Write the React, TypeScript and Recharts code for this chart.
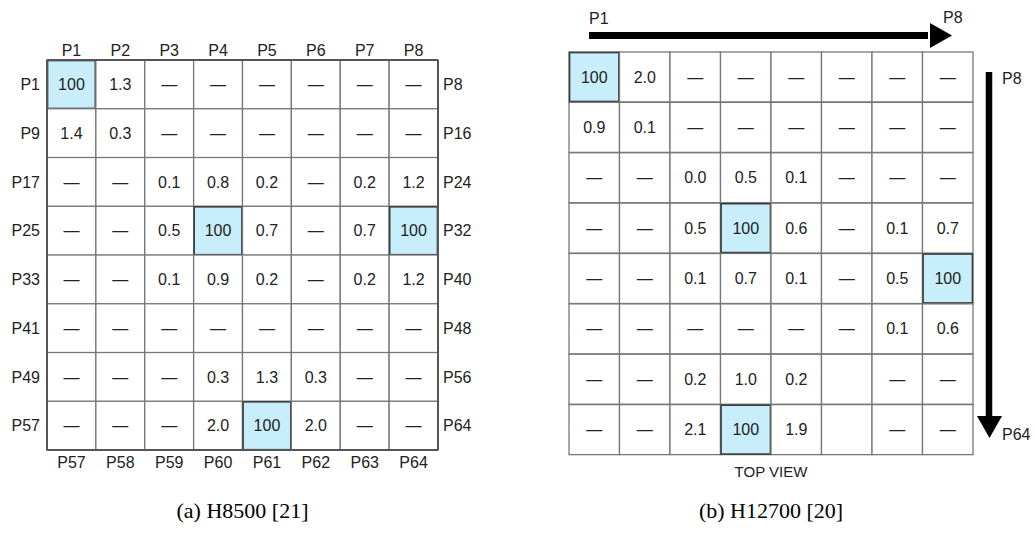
import { Bar, BarChart, XAxis, YAxis } from 'recharts'

const DASH = '—'

// (a) H8500
const colsTopA = ['P1', 'P2', 'P3', 'P4', 'P5', 'P6', 'P7', 'P8']
const colsBottomA = ['P57', 'P58', 'P59', 'P60', 'P61', 'P62', 'P63', 'P64']
const rowsLeftA = ['P1', 'P9', 'P17', 'P25', 'P33', 'P41', 'P49', 'P57']
const rowsRightA = ['P8', 'P16', 'P24', 'P32', 'P40', 'P48', 'P56', 'P64']
const valuesA = [
    ['100', '1.3', DASH, DASH, DASH, DASH, DASH, DASH],
    ['1.4', '0.3', DASH, DASH, DASH, DASH, DASH, DASH],
    [DASH, DASH, '0.1', '0.8', '0.2', DASH, '0.2', '1.2'],
    [DASH, DASH, '0.5', '100', '0.7', DASH, '0.7', '100'],
    [DASH, DASH, '0.1', '0.9', '0.2', DASH, '0.2', '1.2'],
    [DASH, DASH, DASH, DASH, DASH, DASH, DASH, DASH],
    [DASH, DASH, DASH, '0.3', '1.3', '0.3', DASH, DASH],
    [DASH, DASH, DASH, '2.0', '100', '2.0', DASH, DASH],
]

// (b) H12700
const rowsB = ['r1', 'r2', 'r3', 'r4', 'r5', 'r6', 'r7', 'r8']
const valuesB = [
    ['100', '2.0', DASH, DASH, DASH, DASH, DASH, DASH],
    ['0.9', '0.1', DASH, DASH, DASH, DASH, DASH, DASH],
    [DASH, DASH, '0.0', '0.5', '0.1', DASH, DASH, DASH],
    [DASH, DASH, '0.5', '100', '0.6', DASH, '0.1', '0.7'],
    [DASH, DASH, '0.1', '0.7', '0.1', DASH, '0.5', '100'],
    [DASH, DASH, DASH, DASH, DASH, DASH, '0.1', '0.6'],
    [DASH, DASH, '0.2', '1.0', '0.2', '', DASH, DASH],
    [DASH, DASH, '2.1', '100', '1.9', '', DASH, DASH],
]

const TEXT = '#222'
const FONT = '"Liberation Sans", Arial, sans-serif'
const FS = 16

// grid boxes in page pixels
const A = { left: 47, top: 60, right: 438, bottom: 450, w: 500, h: 480 }
const B = { x0: 540, left: 569, top: 52, right: 973, bottom: 455, w: 470, h: 480 }

function buildRows(rows: string[], right: string[], values: string[][]) {
    return rows.map((r, i) => {
        const o: Record<string, string | number> = { row: r, right: right[i] }
        values[i].forEach((v, j) => {
            o[`c${j}`] = 1
            o[`t${j}`] = v
        })
        return o
    })
}

const dataA = buildRows(rowsLeftA, rowsRightA, valuesA)
const dataB = buildRows(rowsB, rowsB, valuesB)
const colTicks = colsTopA.map((_, i) => i + 0.5)

function GridCell(props: any) {
    const { x, y, width, height, payload, col } = props
    const text = payload[`t${col}`]
    const hot = text === '100'
    return (
        <g>
            <rect
                x={x}
                y={y}
                width={width}
                height={height}
                fill={hot ? '#c9eefb' : '#fff'}
                stroke="#777"
                strokeWidth={1.3}
            />
            {hot && (
                // inset so later neighbours do not paint over it
                <rect
                    x={x + 0.6}
                    y={y + 0.6}
                    width={width - 1.2}
                    height={height - 1.2}
                    fill="none"
                    stroke="#3a3a3a"
                    strokeWidth={1.5}
                />
            )}
            <text
                x={x + width / 2}
                y={y + height / 2}
                textAnchor="middle"
                dominantBaseline="central"
                fontSize={FS}
                fill={TEXT}
            >
                {text}
            </text>
        </g>
    )
}

const border = { stroke: '#555', strokeWidth: 2 }
const tickStyle = { fontSize: FS, fill: TEXT }

function gridBars() {
    const bars = colsTopA.map((_, j) => (
        <Bar
            key={j}
            dataKey={`c${j}`}
            stackId="g"
            xAxisId="top"
            yAxisId="left"
            isAnimationActive={false}
            shape={(p: any) => <GridCell {...p} col={j} />}
        />
    ))
    // empty series that ties the bottom and right axes to the data
    bars.push(
        <Bar
            key="ghost"
            dataKey="c0"
            xAxisId="bottom"
            yAxisId="right"
            isAnimationActive={false}
            shape={() => <g />}
        />
    )
    return bars
}

export default function App() {
    return (
        <div
            style={{
                position: 'absolute',
                left: 0,
                top: 0,
                width: 1035,
                height: 535,
                background: '#fff',
                fontFamily: FONT,
            }}
        >
            <div style={{ position: 'absolute', left: 0, top: 0 }}>
                <BarChart
                    width={A.w}
                    height={A.h}
                    layout="vertical"
                    data={dataA}
                    barCategoryGap={0}
                    barGap={0}
                    margin={{ top: 0, right: 0, bottom: 0, left: 0 }}
                >
                    <XAxis
                        xAxisId="top"
                        orientation="top"
                        type="number"
                        domain={[0, 8]}
                        ticks={colTicks}
                        tickFormatter={v => colsTopA[Math.floor(v)]}
                        height={A.top}
                        tickLine={false}
                        tickSize={0}
                        axisLine={border}
                        tick={tickStyle}
                        tickMargin={4}
                    />
                    <XAxis
                        xAxisId="bottom"
                        orientation="bottom"
                        type="number"
                        domain={[0, 8]}
                        ticks={colTicks}
                        tickFormatter={v => colsBottomA[Math.floor(v)]}
                        height={A.h - A.bottom}
                        tickLine={false}
                        tickSize={0}
                        axisLine={border}
                        tick={tickStyle}
                        tickMargin={7}
                    />
                    <YAxis
                        yAxisId="left"
                        type="category"
                        dataKey="row"
                        width={A.left}
                        tickLine={false}
                        tickSize={0}
                        axisLine={border}
                        tick={tickStyle}
                        tickMargin={7}
                    />
                    <YAxis
                        yAxisId="right"
                        orientation="right"
                        type="category"
                        dataKey="right"
                        width={A.w - A.right}
                        tickLine={false}
                        tickSize={0}
                        axisLine={border}
                        tick={tickStyle}
                        tickMargin={5}
                    />
                    {gridBars()}
                </BarChart>
            </div>

            <div style={{ position: 'absolute', left: B.x0, top: 0 }}>
                <BarChart
                    width={B.w}
                    height={B.h}
                    layout="vertical"
                    data={dataB}
                    barCategoryGap={0}
                    barGap={0}
                    margin={{
                        top: B.top,
                        right: B.x0 + B.w - B.right,
                        bottom: B.h - B.bottom,
                        left: B.left - B.x0,
                    }}
                >
                    <XAxis xAxisId="top" orientation="top" type="number" domain={[0, 8]} height={0} tick={false} tickLine={false} axisLine={border} />
                    <XAxis xAxisId="bottom" orientation="bottom" type="number" domain={[0, 8]} height={0} tick={false} tickLine={false} axisLine={border} />
                    <YAxis yAxisId="left" type="category" dataKey="row" width={0} tick={false} tickLine={false} axisLine={border} />
                    <YAxis yAxisId="right" orientation="right" type="category" dataKey="right" width={0} tick={false} tickLine={false} axisLine={border} />
                    {gridBars()}
                </BarChart>
            </div>

            <svg
                width={1035}
                height={535}
                style={{ position: 'absolute', left: 0, top: 0, pointerEvents: 'none' }}
            >
                {/* horizontal arrow P1 -> P8 */}
                <line x1={B.left + 20} y1={35.5} x2={B.right - 45} y2={35.5} stroke="#000" strokeWidth={7} />
                <polygon points={`${B.right - 43},23 ${B.right - 21},35.5 ${B.right - 43},48`} fill="#000" />
                <text x={B.left + 20} y={24} fontSize={FS} fill={TEXT}>P1</text>
                <text x={B.right - 30} y={23} fontSize={FS} fill={TEXT}>P8</text>

                {/* vertical arrow P8 -> P64 */}
                <line x1={989} y1={B.top + 20} x2={989} y2={B.bottom - 37} stroke="#000" strokeWidth={6.5} />
                <polygon points={`977,${B.bottom - 39} 1002,${B.bottom - 39} 989.5,${B.bottom - 17}`} fill="#000" />
                <text x={1002} y={84} fontSize={FS} fill={TEXT}>P8</text>
                <text x={1002} y={440} fontSize={FS} fill={TEXT}>P64</text>

                <text x={(B.left + B.right) / 2} y={477} textAnchor="middle" fontSize={15} fill={TEXT}>
                    TOP VIEW
                </text>

                <text x={(A.left + A.right) / 2} y={518} textAnchor="middle" fontSize={22} fill="#000" fontFamily='"Liberation Serif", serif'>
                    (a) H8500 [21]
                </text>
                <text x={(B.left + B.right) / 2} y={518} textAnchor="middle" fontSize={22} fill="#000" fontFamily='"Liberation Serif", serif'>
                    (b) H12700 [20]
                </text>
            </svg>
        </div>
    )
}
